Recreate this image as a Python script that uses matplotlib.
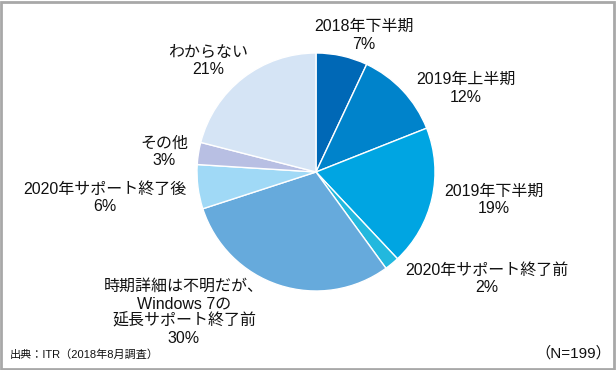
import matplotlib
matplotlib.use("Agg")
import matplotlib.pyplot as plt
from matplotlib.patches import Rectangle

plt.rcParams['font.family'] = ['Liberation Sans', 'Noto Sans CJK JP', 'DejaVu Sans']

labels = ["2018年下半期", "2019年上半期", "2019年下半期", "2020年サポート終了前",
          "時期詳細は不明だが、\nWindows 7の\n延長サポート終了前", "2020年サポート終了後",
          "その他", "わからない"]
values = [7, 12, 19, 2, 30, 6, 3, 21]
colors = ["#0068B6", "#0083CB", "#00A5E2", "#22B8DE", "#66AADC", "#A0D9F6",
          "#B8BFE3", "#D5E4F5"]

W, H = 616, 370
fig = plt.figure(figsize=(W/100, H/100), dpi=100)
cx, cy, r = 316, 172, 119
ax = fig.add_axes([(cx - r)/W, 1 - (cy + r)/H, 2*r/W, 2*r/H])
ax.pie(values, colors=colors, startangle=90, counterclock=False,
       wedgeprops=dict(edgecolor="white", linewidth=1.0), radius=1.0)
ax.set_xlim(-1, 1); ax.set_ylim(-1, 1)
ax.set_aspect('auto')
ax.axis('off')

# label block centers (pixel coords)
pos = [(364, 35.5), (466, 88.5), (494, 200), (487, 279), (184, 312.5),
       (105, 198), (164, 152), (208, 61)]
for lab, v, (x, y) in zip(labels, values, pos):
    fig.text(x/W, 1 - y/H, f"{lab}\n{v}%", ha="center", va="center",
             fontsize=11.5, linespacing=1.2, color="#111111")

fig.text(10/W, 1 - 355/H, "出典：ITR（2018年8月調査）", ha="left", va="center",
         fontsize=8, color="#111111")
fig.text(573/W, 1 - 353/H, "（N=199）", ha="center", va="center", fontsize=11, color="#111111")

fig.patches.append(Rectangle((1/W, 1/H), 1 - 3/W, 1 - 3/H, transform=fig.transFigure,
                             fill=False, edgecolor="#A8A8A8", linewidth=2))
fig.savefig("out.png", dpi=100)
